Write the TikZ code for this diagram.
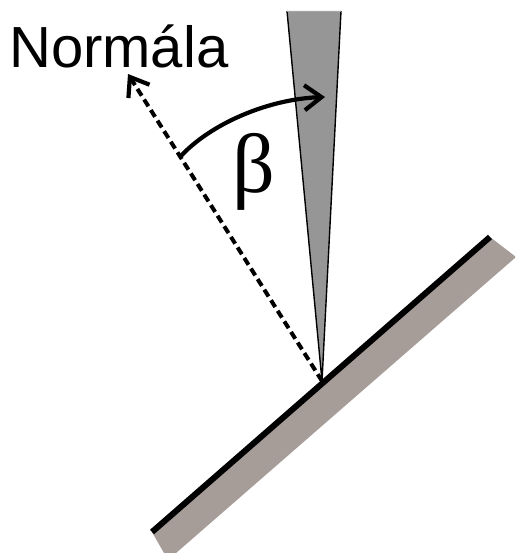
\documentclass[tikz,border=0pt]{standalone}
\usepackage{fontspec}
\setmainfont{Liberation Sans}
\newfontfamily\greekfont{Liberation Serif}
\usetikzlibrary{arrows.meta}
\definecolor{plategray}{RGB}{166,156,152}
\definecolor{wedgegray}{RGB}{150,150,150}
\begin{document}
\begin{tikzpicture}[x=1pt,y=-1pt,
  barb/.style={-{Straight Barb[length=17pt,width=25pt,line width=4.2pt]}},
  normalline/.style={line width=4pt,dash pattern=on 8pt off 4.5pt,barb},
  anglearc/.style={line width=4.2pt,barb},
  lbl/.style={inner sep=0pt,font=\fontsize{58}{62}\selectfont},
  greek/.style={inner sep=0pt,font=\greekfont\fontsize{84}{90}\selectfont}]
\useasboundingbox (0,0) rectangle (515,553);
\begin{scope}
\clip (0,0) rectangle (515,553);
% plate
\coordinate (p1) at (152,532);
\coordinate (p2) at (490,237);
\fill[plategray] (p1) -- (p2) -- (516,257) -- (168,560) -- cycle;
\draw[line width=6pt] (p1) -- (p2);
\end{scope}
% wedge
\coordinate (w1) at (287,11);
\coordinate (w2) at (341,11);
\coordinate (tip) at (322,381);
\fill[wedgegray] (w1) -- (w2) -- (tip) -- cycle;
\draw[line width=1.4pt,line join=miter] (w1) -- (tip) -- (w2);
\draw[gray!70,line width=0.8pt] (w1) -- (w2);
% normal
\coordinate (nend) at (128,74);
\draw[normalline] (tip) -- (nend);
% angle arc
\coordinate (astart) at (180,157);
\coordinate (aend) at (325,97);
\draw[anglearc] (astart) .. controls (210,124) and (268,99) .. (aend);
% labels
\node[lbl,anchor=base west] (normal) at (9,68) {Normála};
\node[greek] (beta) at (254,172) {β};
\end{tikzpicture}
\end{document}
